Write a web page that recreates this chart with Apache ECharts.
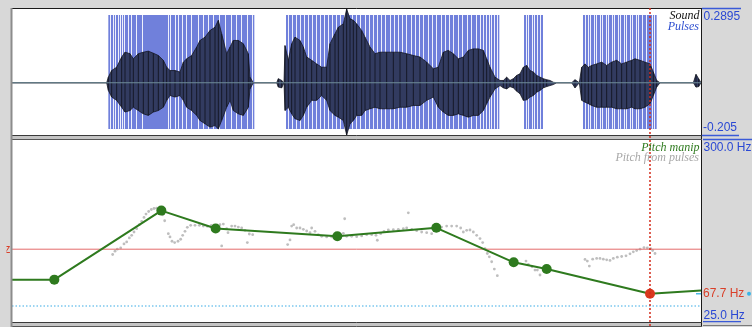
<!DOCTYPE html>
<html><head><meta charset="utf-8">
<script src="https://cdn.jsdelivr.net/npm/echarts@6/dist/echarts.min.js"></script>
<style>html,body{margin:0;padding:0;background:#d8d8d8;}#c{width:752px;height:327px;}</style>
</head><body><div id="c"></div><script>
// ---- data (time in s, amplitude, Hz) ----
const T_END = 2.067;
const soundMax = 0.2895, soundMin = -0.205;
const pitchTop = 300, pitchBottom = 25;
const cursorTime = 1.914;
const cursorHz = 135.0;
const minPitchHz = 50;
const pulseExtent = [-0.181, 0.266];
// [time, upper, lower] envelope of the waveform
const soundEnvelope = [
[0,0,0],[0.284,0,0],[0.289,0.022,-0.030],[0.299,0.048,-0.056],[0.314,0.061,-0.069],[0.329,0.101,-0.096],
[0.339,0.120,-0.115],[0.354,0.114,-0.109],[0.364,0.094,-0.096],[0.379,0.114,-0.109],[0.394,0.120,-0.122],
[0.409,0.124,-0.128],[0.424,0.116,-0.115],[0.439,0.107,-0.109],[0.454,0.088,-0.096],[0.464,0.061,-0.069],
[0.474,0.048,-0.050],[0.489,0.048,-0.056],[0.504,0.042,-0.050],[0.514,0.081,-0.069],[0.524,0.094,-0.096],
[0.539,0.107,-0.109],[0.554,0.140,-0.128],[0.564,0.166,-0.148],[0.579,0.179,-0.161],[0.594,0.205,-0.174],
[0.609,0.218,-0.168],[0.619,0.245,-0.181],[0.629,0.192,-0.148],[0.644,0.114,-0.096],[0.654,0.140,-0.069],
[0.664,0.166,-0.109],[0.679,0.166,-0.122],[0.694,0.153,-0.128],[0.709,0.114,-0.096],[0.714,0.022,-0.024],
[0.724,0,0],[0.794,0,0],[0.799,0.016,-0.017],[0.809,0.009,-0.020],[0.816,0,0],[0.819,0.146,-0.109],
[0.829,0.088,-0.096],[0.839,0.153,-0.122],[0.849,0.179,-0.141],[0.864,0.166,-0.148],[0.874,0.140,-0.128],
[0.884,0.101,-0.096],[0.899,0.088,-0.069],[0.914,0.074,-0.069],[0.929,0.061,-0.050],[0.944,0.061,-0.069],
[0.954,0.153,-0.109],[0.969,0.192,-0.128],[0.979,0.218,-0.135],[0.994,0.231,-0.148],[1.004,0.2895,-0.205],
[1.014,0.251,-0.161],[1.024,0.245,-0.148],[1.034,0.231,-0.128],[1.049,0.205,-0.128],[1.059,0.179,-0.109],
[1.074,0.140,-0.102],[1.089,0.114,-0.096],[1.104,0.120,-0.102],[1.124,0.120,-0.102],[1.144,0.120,-0.102],
[1.164,0.120,-0.096],[1.184,0.114,-0.096],[1.204,0.107,-0.089],[1.224,0.101,-0.089],[1.244,0.081,-0.069],
[1.264,0.055,-0.056],[1.279,0.061,-0.096],[1.294,0.120,-0.115],[1.309,0.127,-0.128],[1.324,0.114,-0.128],
[1.339,0.094,-0.122],[1.354,0.101,-0.128],[1.369,0.127,-0.135],[1.384,0.133,-0.128],[1.399,0.133,-0.128],
[1.414,0.127,-0.109],[1.424,0.094,-0.082],[1.434,0.061,-0.056],[1.449,0.022,-0.024],[1.464,0.009,-0.011],
[1.474,0.009,-0.020],[1.484,0.022,-0.024],[1.494,0.009,-0.015],[1.504,0.016,-0.020],[1.514,0.029,-0.033],
[1.524,0.035,-0.043],[1.534,0.061,-0.069],[1.544,0.068,-0.067],[1.554,0.048,-0.056],[1.564,0.042,-0.050],
[1.574,0.029,-0.037],[1.584,0.022,-0.030],[1.594,0.016,-0.020],[1.604,0.012,-0.015],[1.614,0.009,-0.011],
[1.624,0.002,-0.007],[1.634,0,0],[1.679,0,0],[1.689,0.012,-0.020],[1.702,0,0],[1.709,0.061,-0.069],
[1.719,0.074,-0.076],[1.729,0.061,-0.082],[1.739,0.068,-0.089],[1.754,0.074,-0.096],[1.769,0.081,-0.096],
[1.784,0.068,-0.096],[1.799,0.081,-0.096],[1.814,0.088,-0.102],[1.829,0.074,-0.102],[1.844,0.081,-0.102],
[1.859,0.088,-0.096],[1.869,0.094,-0.102],[1.884,0.088,-0.102],[1.899,0.081,-0.096],[1.914,0.074,-0.082],
[1.924,0.042,-0.050],[1.934,0.009,-0.017],[1.944,0,0],[2.044,0,0],[2.052,0.033,-0.017],[2.060,0.016,-0.015],
[2.067,0,0]
];
// voiced stretches covered by pulses [start, end]
const pulseSpans = [[0.289,0.727],[0.822,1.462],[1.536,1.593],[1.713,1.934]];
// visible gaps between neighbouring pulses
const pulseGaps = [
0.295,0.303,0.310,0.317,0.324,0.331,0.337,0.347,0.357,0.371,0.391,0.467,0.474,0.488,0.498,0.510,0.521,0.536,
0.557,0.574,0.589,0.604,0.621,0.639,0.656,0.671,0.687,0.704,0.720,
0.828,0.840,0.852,0.864,0.875,0.887,0.899,0.911,0.923,0.935,0.948,0.960,0.972,0.984,0.996,1.009,1.021,1.033,
1.045,1.058,1.071,1.083,1.095,1.108,1.120,1.133,1.146,1.158,1.170,1.183,1.196,1.208,1.221,1.234,1.247,1.260,
1.273,1.286,1.299,1.312,1.324,1.337,1.350,1.364,1.378,1.392,1.404,1.414,1.422,1.430,1.438,1.446,1.454,
1.542,1.549,1.559,1.566,1.575,1.584,
1.719,1.727,1.735,1.745,1.753,1.763,1.771,1.781,1.789,1.799,1.807,1.817,1.825,1.835,1.843,1.853,1.861,1.871,
1.879,1.889,1.901,1.921,1.927
];
// Pitch manip points
const manipTimes = [0.127,0.448,0.611,0.976,1.273,1.505,1.604,1.914];
const manipHz    = [89.0,193.3,166.3,154.7,167.3,115.2,105.1,67.7];
const manipEdgeLeft = [0, 89.0];
const manipEdgeRight = [T_END, 72.6];
const selectedPoint = 7;
// Pitch from pulses [time, Hz]
const pulsePitch = [
[0.302,127],[0.309,132],[0.316,135],[0.326,137],[0.336,143],[0.344,146],[0.352,152],[0.359,156],[0.366,161],
[0.374,166],[0.382,172],[0.389,177],[0.396,183],[0.402,188],[0.410,192],[0.418,195],[0.426,196.5],[0.434,197],
[0.442,195],[0.452,187],[0.458,178],[0.469,158.5],[0.474,153.5],[0.480,147],[0.488,145],[0.498,147],[0.506,150],
[0.512,156],[0.519,162],[0.526,168],[0.536,171],[0.549,171],[0.562,171],[0.574,170],[0.586,169.5],[0.598,171],
[0.629,140],[0.624,172],[0.634,173],[0.644,166],[0.648,160],[0.659,170],[0.669,170],[0.679,168.5],[0.689,167],
[0.699,163.5],[0.706,145],[0.712,158],[0.722,157],
[0.827,142],[0.834,149],[0.839,170],[0.845,172],[0.854,167],[0.864,167],[0.874,165],[0.884,162.5],[0.894,160],
[0.899,167],[0.909,162],[0.919,157],[0.929,154.5],[0.944,153.5],[0.959,153.5],[0.969,155],[0.984,158],[0.994,159],
[0.998,181],[1.004,154.5],[1.019,154.5],[1.034,154],[1.049,155],[1.064,157],[1.079,157],[1.092,156],[1.096,148.5],
[1.106,158.5],[1.116,162],[1.129,164],[1.144,164.5],[1.159,165],[1.174,166],[1.184,167],[1.189,190],[1.199,165],
[1.214,163],[1.229,161],[1.244,160],[1.259,158.5],[1.274,167],[1.289,168.5],[1.304,170],[1.319,170],[1.334,170],
[1.346,167],[1.354,161],[1.364,163.5],[1.374,164],[1.384,161],[1.394,156],[1.404,151],[1.412,145],[1.419,136],
[1.426,128.5],[1.432,123.5],[1.439,116],[1.447,105],[1.456,95],
[1.542,117],[1.549,112],[1.560,108.5],[1.569,103.5],[1.576,103.5],[1.584,96],
[1.719,119.5],[1.726,117],[1.732,109.5],[1.742,120],[1.754,121],[1.764,121],[1.774,120],[1.784,119],[1.794,118],
[1.804,121],[1.816,123],[1.829,124],[1.842,125],[1.854,128],[1.864,131],[1.874,133],[1.884,135],[1.896,137.5],
[1.906,137],[1.916,136],[1.922,133],[1.929,128.5]
];
const labelSoundMax = '0.2895', labelSoundMin = '-0.205';
const labelPitchTop = '300.0 Hz', labelPitchBottom = '25.0 Hz', labelCursorPitch = '67.7 Hz', labelCursorHz = '135.0 Hz';

// ---- chart ----
const GREEN = '#2e7a1e', BLUE = '#2a48d4', RED = '#d9402a';
const chart = echarts.init(document.getElementById('c'));
const manipData = [{value: manipEdgeLeft, symbol: 'none'}]
  .concat(manipTimes.map((t, i) => i === selectedPoint
    ? {value: [t, manipHz[i]], itemStyle: {color: '#d9381e'}}
    : {value: [t, manipHz[i]]}))
  .concat([{value: manipEdgeRight, symbol: 'none'}]);

chart.setOption({
  backgroundColor: '#d8d8d8',
  animation: false,
  grid: [
    {left: 12, top: 9, width: 689, height: 126, show: true, backgroundColor: '#fff', borderWidth: 0},
    {left: 12, top: 140, width: 689, height: 182, show: true, backgroundColor: '#fff', borderWidth: 0}
  ],
  xAxis: [
    {type: 'value', gridIndex: 0, min: 0, max: T_END, show: false},
    {type: 'value', gridIndex: 1, min: 0, max: T_END, show: false}
  ],
  yAxis: [
    {type: 'value', gridIndex: 0, min: soundMin, max: soundMax, show: false},
    {type: 'value', gridIndex: 1, min: pitchBottom, max: pitchTop, show: false}
  ],
  series: [
    { // pulse stretches
      type: 'custom', xAxisIndex: 0, yAxisIndex: 0, silent: true,
      data: pulseSpans.map(s => [s[0], s[1], 0]), encode: {x: [0, 1], y: 2},
      renderItem(params, api) {
        const a = api.coord([api.value(0), pulseExtent[1]]);
        const b = api.coord([api.value(1), pulseExtent[0]]);
        return {type: 'rect', shape: {x: a[0], y: a[1], width: b[0] - a[0], height: b[1] - a[1]}, style: {fill: '#7080db'}};
      }
    },
    { // gaps between pulses
      type: 'custom', xAxisIndex: 0, yAxisIndex: 0, silent: true,
      data: pulseGaps.map(t => [t, 0]), encode: {x: 0, y: 1},
      renderItem(params, api) {
        const a = api.coord([api.value(0), pulseExtent[1]]);
        const b = api.coord([api.value(0), pulseExtent[0]]);
        const x = Math.round(a[0]) + 0.5;
        return {type: 'line', shape: {x1: x, y1: a[1], x2: x, y2: b[1]}, style: {stroke: '#eef0fc', lineWidth: 1}};
      }
    },
    { // zero line
      type: 'line', xAxisIndex: 0, yAxisIndex: 0, silent: true, symbol: 'none',
      data: [[0, 0], [T_END, 0]], lineStyle: {color: '#6f8d99', width: 1}
    },
    { // waveform
      type: 'custom', xAxisIndex: 0, yAxisIndex: 0, silent: true,
      data: [[0, 0]], encode: {x: 0, y: 1},
      renderItem(params, api) {
        const up = soundEnvelope.map(e => api.coord([e[0], e[1]]));
        const lo = soundEnvelope.map(e => api.coord([e[0], e[2]])).reverse();
        const children = [{type: 'polygon', shape: {points: up.concat(lo)}, style: {fill: '#323b60', stroke: '#141722', lineWidth: 0.8}}];
        soundEnvelope.forEach(e => {
          if (e[1] - e[2] > 0.02) {
            const a = api.coord([e[0], e[1]]), b = api.coord([e[0], e[2]]);
            children.push({type: 'line', shape: {x1: a[0], y1: a[1], x2: b[0], y2: b[1]}, style: {stroke: '#0c0e16', lineWidth: 1, opacity: 0.75}});
          }
        });
        return {type: 'group', children};
      }
    },
    { // pitch from pulses
      type: 'scatter', xAxisIndex: 1, yAxisIndex: 1, silent: true,
      data: pulsePitch, symbolSize: 2.8, itemStyle: {color: '#aeaeae'},
      markLine: {
        silent: true, symbol: ['none', 'none'], label: {show: false}, animation: false,
        data: [
          {yAxis: minPitchHz, lineStyle: {color: '#7cc8ee', type: [1.5, 2], width: 1.5}}
        ]
      }
    },
    { // cursor frequency line
      type: 'line', xAxisIndex: 1, yAxisIndex: 1, silent: true, symbol: 'none',
      data: [[0, cursorHz], [T_END, cursorHz]], lineStyle: {color: '#e46a6a', width: 1}
    },
    { // pitch manip
      type: 'line', xAxisIndex: 1, yAxisIndex: 1, silent: true,
      data: manipData, symbol: 'circle', symbolSize: 10,
      lineStyle: {color: GREEN, width: 2}, itemStyle: {color: GREEN}
    }
  ]
});

// ---- frame, cursor and labels ----
const px = (g, v) => chart.convertToPixel({gridIndex: g}, v);
const cx = px(0, [cursorTime, 0])[0];
const ySoundTop = px(0, [0, soundMax])[1], ySoundBot = px(0, [0, soundMin])[1];
const yPitchTop = px(1, [0, pitchTop])[1], yPitchBot = px(1, [0, pitchBottom])[1];
const yCurPitch = px(1, [0, manipHz[selectedPoint]])[1];
const yCurHz = px(1, [0, cursorHz])[1];
const ln = (x1, y1, x2, y2, stroke, w, dash) => ({type: 'line', silent: true, shape: {x1, y1, x2, y2}, style: {stroke, lineWidth: w || 1, lineDash: dash || null}, z: 50});
const tx = (text, x, y, fill, font, align, va) => ({type: 'text', silent: true, z: 60, style: {text, x, y, fill, font, textAlign: align, textVerticalAlign: va}});
const SANS = '12px "Liberation Sans", Arial, sans-serif';
const SERIF = 'italic 12px "Liberation Serif", "Times New Roman", serif';

chart.setOption({graphic: {elements: [
  ln(11, 8.5, 702, 8.5, '#1a1a1a', 1),
  ln(701.5, 8, 701.5, 327, '#1a1a1a', 1),
  {type: 'rect', silent: true, z: 49, shape: {x: 11, y: 135, width: 691, height: 5}, style: {fill: '#c4c4c4'}},
  ln(11, 135.5, 702, 135.5, '#3a3a3a', 1),
  ln(11, 139.5, 702, 139.5, '#555', 1),
  {type: 'rect', silent: true, z: 49, shape: {x: 11, y: 322, width: 691, height: 5}, style: {fill: '#c4c4c4'}},
  ln(11, 322.5, 702, 322.5, '#3a3a3a', 1),
  ln(11, 326.5, 702, 326.5, '#555', 1),
  // cursor
  ln(cx, 8, cx, 327, '#d42a1a', 1.5, [2, 2]),
  // right-side marks
  ln(702, ySoundTop - 0.5, 741, ySoundTop - 0.5, '#3a5ad8', 1.3),
  ln(702, ySoundBot + 0.5, 739, ySoundBot + 0.5, '#3a5ad8', 1.3),
  ln(703, yPitchTop - 0.5, 752, yPitchTop - 0.5, '#3a5ad8', 1.3),
  ln(703, yPitchBot - 0.3, 741, yPitchBot - 0.3, '#3a5ad8', 1.3),
  ln(703, 325.5, 752, 325.5, '#7a7a7a', 1),
  ln(696, yCurPitch, 701, yCurPitch, '#4ab8e6', 1.5),
  {type: 'circle', silent: true, z: 60, shape: {cx: 749, cy: yCurPitch, r: 2}, style: {fill: '#3ab4e6'}},
  tx(labelSoundMax, 703.5, ySoundTop + 2, BLUE, SANS, 'left', 'top'),
  tx(labelSoundMin, 703, ySoundBot - 1, BLUE, SANS, 'left', 'bottom'),
  tx(labelPitchTop, 703.5, yPitchTop + 2, BLUE, SANS, 'left', 'top'),
  tx(labelPitchBottom, 703.5, yPitchBot, BLUE, SANS, 'left', 'bottom'),
  tx(labelCursorPitch, 703, yCurPitch, RED, SANS, 'left', 'middle'),
  tx(labelCursorHz, 10.5, yCurHz, RED, SANS, 'right', 'middle'),
  // left margin strip hides most of the cut-off cursor label
  {type: 'rect', silent: true, z: 70, shape: {x: 0, y: 0, width: 6.5, height: 327}, style: {fill: '#d8d8d8'}},
  ln(11.5, 8, 11.5, 327, '#8c8c8c', 2),
  // panel titles
  tx('Sound', 699.5, 16, '#111', SERIF, 'right', 'middle'),
  tx('Pulses', 699, 26.5, '#3050d0', SERIF, 'right', 'middle'),
  tx('Pitch manip', 699.5, 148.3, GREEN, SERIF, 'right', 'middle'),
  tx('Pitch from pulses', 699, 157.8, '#a8a8a8', SERIF, 'right', 'middle')
]}});
</script></body></html>
